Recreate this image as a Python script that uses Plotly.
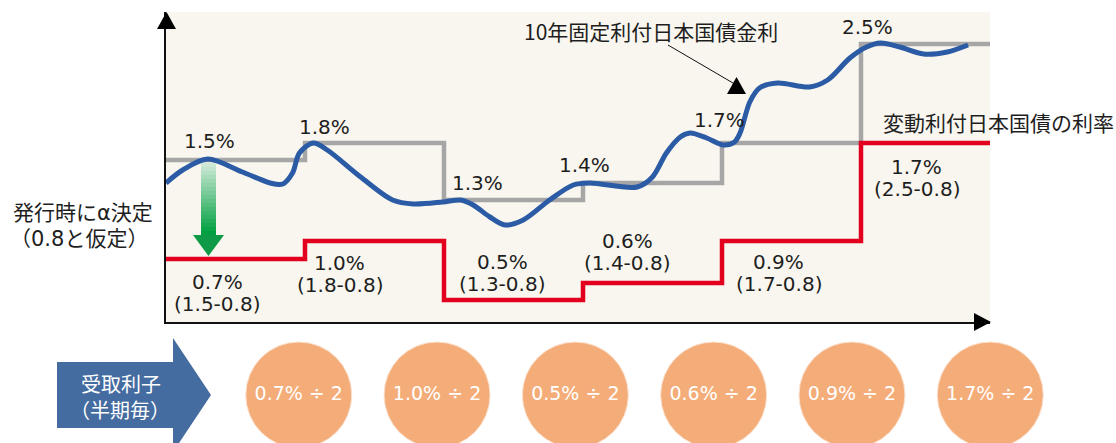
import plotly.graph_objects as go

# ---------------- data ----------------
periods = [0, 1, 2, 3, 4, 5]
fixed_rate_pct = [1.5, 1.8, 1.3, 1.4, 1.7, 2.5]          # 10年固定利付日本国債金利 (labels)
alpha = 0.8                                              # 発行時に決定されるα
gray_level = [162, 179, 122, 139, 179, 278]              # schematic drawn level of fixed rate
red_level = [63, 81, 22, 39, 81, 179]                    # schematic drawn level of variable rate
blue_t = [0.0, 0.12, 0.30, 0.55, 0.75, 0.84, 0.91, 0.96, 1.06, 1.16, 1.40, 1.63, 1.78,
          1.99, 2.12, 2.21, 2.33, 2.44, 2.57, 2.76, 2.93, 3.05, 3.39, 3.50, 3.60, 3.70,
          3.77, 3.89, 4.01, 4.09, 4.13, 4.20, 4.27, 4.40, 4.63, 4.76, 4.92, 5.04, 5.14,
          5.28, 5.45, 5.62, 5.77]
blue_level = [139, 152, 163, 150, 139, 138, 149, 169, 179, 172, 145, 122, 118,
              120, 122, 117, 105, 97, 102, 122, 137, 139, 135, 145, 169, 185,
              189, 184, 177, 180, 189, 220, 234, 239, 235, 242, 264, 275, 279,
              275, 268, 270, 277]

variable_rate_pct = [round(g - alpha, 1) for g in fixed_rate_pct]

# ---------------- geometry / style ----------------
W, H = 1116, 443
X0, X1, YB, YT = 166, 990, 322, 12
PP = 139                      # pixels per period
xmax = (X1 - X0) / PP
ymax = YB - YT

def dx(px):   # pixel -> data x
    return (px - X0) / PP

def dy(py):   # pixel -> data y
    return YB - py

def pxp(px):  # pixel -> paper x
    return px / W

def pyp(py):  # pixel -> paper y
    return 1 - py / H

FONT_NUM = "DejaVu Sans, Noto Sans CJK JP, sans-serif"
FONT_JP = "Noto Sans CJK JP, DejaVu Sans, sans-serif"
TXT = "#1e1e1e"
GRAY = "#a6a6a6"
RED = "#e3001f"
BLUE = "#2c5ba6"
CREAM = "#f8f6ee"

fig = go.Figure()

fig.add_trace(go.Scatter(
    x=periods + [xmax], y=gray_level + [gray_level[-1]], mode="lines",
    line=dict(color=GRAY, width=4.5, shape="hv"), hoverinfo="skip"))
fig.add_trace(go.Scatter(
    x=periods + [xmax], y=red_level + [red_level[-1]], mode="lines",
    line=dict(color=RED, width=4.5, shape="hv"), hoverinfo="skip"))
fig.add_trace(go.Scatter(
    x=blue_t, y=blue_level, mode="lines",
    line=dict(color=BLUE, width=5, shape="spline", smoothing=0.9), hoverinfo="skip"))

# circles: received interest (half-yearly)
circ_x = [p * 0.995 + 0.955 for p in periods]
fig.add_trace(go.Scatter(
    x=circ_x, y=[H - 395] * len(periods), xaxis="x2", yaxis="y2",
    mode="markers+text", cliponaxis=False,
    marker=dict(size=106, color="#f4ac78", line=dict(color="#fbe3d2", width=1)),
    text=[f"{r:.1f}% ÷ 2" for r in variable_rate_pct], textposition="middle center",
    textfont=dict(family=FONT_NUM, size=19, color="white"), hoverinfo="skip"))

annotations = []
shapes = []

def ann(text, x, y, xref="x", yref="y", size=20, color=TXT, xanchor="center", family=FONT_NUM):
    annotations.append(dict(text=text, x=x, y=y, xref=xref, yref=yref, showarrow=False,
                            xanchor=xanchor, yanchor="middle",
                            font=dict(family=family, size=size, color=color)))

# cream plot background (main panel only)
shapes.append(dict(type="rect", xref="paper", yref="paper", x0=X0 / W, x1=X1 / W,
                   y0=1 - YB / H, y1=1 - YT / H, fillcolor=CREAM, line=dict(width=0), layer="below"))

# gray (fixed rate) labels
gray_lab_x = [0.31, 1.14, 2.24, 3.01, 3.98, 5.05]
gray_lab_dy = [19, 16, 17, 18, 23, 17]
for i, g in enumerate(fixed_rate_pct):
    ann(f"{g:.1f}%", gray_lab_x[i], gray_level[i] + gray_lab_dy[i])

# red (variable rate) labels
red_lab_x = [0.37, 1.25, 2.42, 3.32, 4.41, 5.40]
red_lab_dy = [-23, -22, 38, 42, -21, -24]
for i, (g, r) in enumerate(zip(fixed_rate_pct, variable_rate_pct)):
    ann(f"{r:.1f}%", red_lab_x[i], red_level[i] + red_lab_dy[i])
    ann(f"({g:.1f}-{alpha:.1f})", red_lab_x[i], red_level[i] + red_lab_dy[i] - 22)

# series titles
ann("10年固定利付日本国債金利", pxp(651), pyp(31), "paper", "paper", 21, family=FONT_JP)
ann("変動利付日本国債の利率", pxp(881), pyp(122), "paper", "paper", 21, xanchor="left", family=FONT_JP)
ann("発行時にα決定", pxp(83), pyp(213), "paper", "paper", 21)
ann(f"（{alpha:.1f}と仮定）", pxp(79), pyp(239), "paper", "paper", 21)
ann("受取利子", pxp(121), pyp(385), "paper", "paper", 20, color="white")
ann("（半期毎）", pxp(120), pyp(411), "paper", "paper", 20, color="white")

# pointer from title to blue line
shapes.append(dict(type="line", xref="x", yref="y", x0=dx(668), y0=dy(45), x1=dx(733), y1=dy(83),
                   line=dict(color="#111", width=1)))
shapes.append(dict(type="path", xref="paper", yref="paper",
                   path=f"M{pxp(727)},{pyp(94)} L{pxp(746)},{pyp(94)} L{pxp(736.5)},{pyp(77)} Z",
                   fillcolor="#000", line=dict(width=0)))

# axis arrow heads
shapes.append(dict(type="path", xref="paper", yref="paper",
                   path=f"M{pxp(157)},{pyp(29)} L{pxp(176)},{pyp(29)} L{pxp(166.5)},{pyp(12)} Z",
                   fillcolor="#000", line=dict(width=0)))
shapes.append(dict(type="path", xref="paper", yref="paper",
                   path=f"M{pxp(974)},{pyp(313)} L{pxp(974)},{pyp(331)} L{pxp(991)},{pyp(322)} Z",
                   fillcolor="#000", line=dict(width=0)))

# green gradient arrow (fixed rate - alpha)
ax_c = dx(208.5)
shaft_hw = 7.5 / PP
head_hw = 15.5 / PP
top = gray_level[0] - 3
head_top = red_level[0] + 24
tip = red_level[0] + 3
n = 18
c0 = (205, 233, 214)
c1 = (0, 160, 64)
for k in range(n):
    t = k / (n - 1)
    col = "rgb(%d,%d,%d)" % tuple(int(a + (b - a) * t) for a, b in zip(c0, c1))
    ya = top - (top - head_top) * k / n
    yb = top - (top - head_top) * (k + 1) / n
    shapes.append(dict(type="rect", xref="x", yref="y", x0=ax_c - shaft_hw, x1=ax_c + shaft_hw,
                       y0=yb - 0.3, y1=ya, fillcolor=col, line=dict(width=0)))
shapes.append(dict(type="path", xref="x", yref="y",
                   path=f"M{ax_c - head_hw},{head_top} L{ax_c + head_hw},{head_top} L{ax_c},{tip} Z",
                   fillcolor="#0e9a46", line=dict(width=0)))

# blue block arrow at bottom
bx = [57, 173, 173, 211, 173, 173, 57]
by = [362, 362, 338, 395, 452, 428, 428]
path = "M" + " L".join(f"{pxp(a)},{pyp(b)}" for a, b in zip(bx, by)) + " Z"
shapes.append(dict(type="path", xref="paper", yref="paper", path=path,
                   fillcolor="#456ca0", line=dict(width=0), layer="below"))

x2max = (W - X0) / PP
fig.update_layout(
    width=W, height=H, margin=dict(l=0, r=0, t=0, b=0),
    paper_bgcolor="white", plot_bgcolor="rgba(0,0,0,0)", showlegend=False, hovermode=False,
    xaxis=dict(domain=[X0 / W, X1 / W], range=[0, xmax], showgrid=False, zeroline=False,
               showticklabels=False, ticks="", showline=True, linecolor="#111", linewidth=1.5,
               fixedrange=True),
    yaxis=dict(domain=[1 - YB / H, 1 - YT / H], range=[0, ymax], showgrid=False, zeroline=False,
               showticklabels=False, ticks="", showline=True, linecolor="#111", linewidth=1.5,
               fixedrange=True),
    xaxis2=dict(domain=[X0 / W, 1], range=[0, x2max], anchor="y2", visible=False, fixedrange=True),
    yaxis2=dict(domain=[0, 0.25], range=[0, 0.25 * H], anchor="x2", visible=False, fixedrange=True),
    annotations=annotations, shapes=shapes,
)

fig.write_html("out.html", config={"displayModeBar": False},
               post_script="document.body.style.margin='0';document.body.style.overflow='hidden';")
